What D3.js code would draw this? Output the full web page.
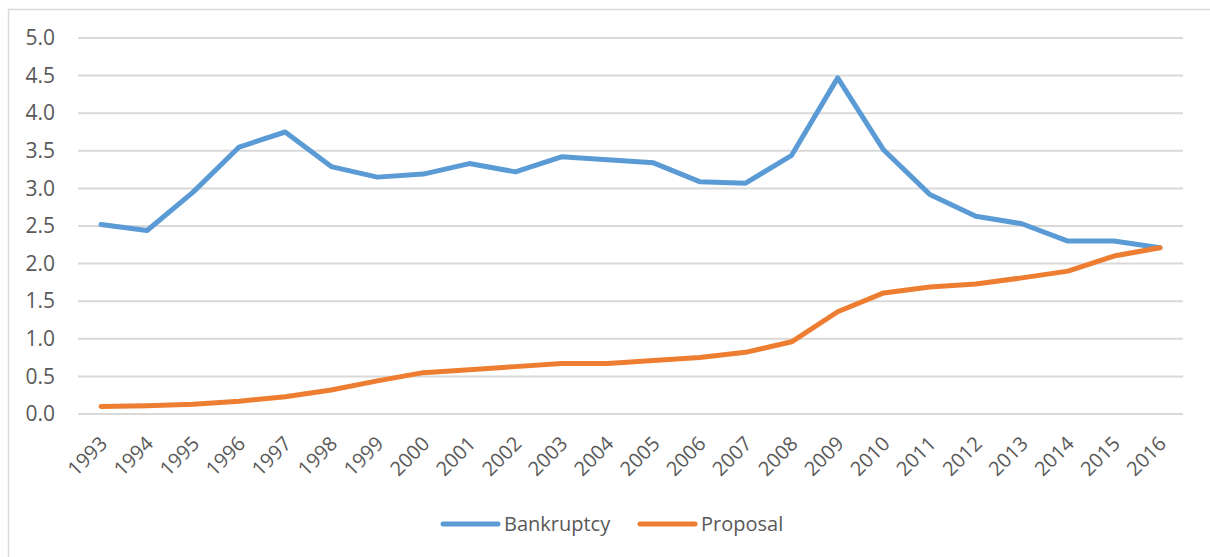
<!DOCTYPE html>
<html>
<head>
<meta charset="utf-8">
<script src="https://cdn.jsdelivr.net/npm/d3@7"></script>
<style>
  body { margin: 0; background: #fff; }
  text { font-family: "Open Sans", sans-serif; fill: #595959; }
</style>
</head>
<body>
<div id="chart-area"></div>
<script>
// data
var years = ["1993","1994","1995","1996","1997","1998","1999","2000","2001","2002","2003","2004",
             "2005","2006","2007","2008","2009","2010","2011","2012","2013","2014","2015","2016"];
var bankruptcy = [2.52, 2.44, 2.95, 3.55, 3.75, 3.29, 3.15, 3.19, 3.33, 3.22, 3.42, 3.38,
                  3.34, 3.09, 3.07, 3.44, 4.47, 3.51, 2.92, 2.63, 2.53, 2.30, 2.30, 2.21];
var proposal = [0.10, 0.11, 0.13, 0.17, 0.23, 0.32, 0.44, 0.55, 0.59, 0.63, 0.67, 0.67,
                0.71, 0.75, 0.82, 0.96, 1.36, 1.61, 1.69, 1.73, 1.81, 1.90, 2.10, 2.21];
var yTicks = [0, 0.5, 1, 1.5, 2, 2.5, 3, 3.5, 4, 4.5, 5];

var series = [
    { name: "Bankruptcy", values: bankruptcy, color: "#5B9BD5" },
    { name: "Proposal", values: proposal, color: "#ED7D31" }
];

var W = 1210, H = 557;
var margin = { left: 78, right: 27, top: 38, bottom: 143 };
var width = W - margin.left - margin.right;
var height = H - margin.top - margin.bottom;

var svg = d3.select("#chart-area")
    .append("svg")
        .attr("width", W)
        .attr("height", H);

// chart area border
svg.append("rect")
    .attr("x", 8.5)
    .attr("y", 9.5)
    .attr("width", W + 20)
    .attr("height", H + 20)
    .attr("fill", "none")
    .attr("stroke", "#D9D9D9")
    .attr("stroke-width", 1.5);

var g = svg.append("g")
    .attr("transform", "translate(" + margin.left + "," + margin.top + ")");

var x = d3.scalePoint()
    .domain(years)
    .range([0, width])
    .padding(0.5);

var y = d3.scaleLinear()
    .domain([0, 5])
    .range([height, 0]);

// gridlines
g.selectAll(".grid")
    .data(yTicks)
    .enter()
    .append("line")
        .attr("x1", 0)
        .attr("x2", width)
        .attr("y1", function(d){ return y(d); })
        .attr("y2", function(d){ return y(d); })
        .attr("stroke", "#D9D9D9")
        .attr("stroke-width", 2);

var yAxisCall = d3.axisLeft(y)
    .tickValues(yTicks)
    .tickSize(0)
    .tickPadding(23)
    .tickFormat(d3.format(".1f"));

g.append("g")
    .attr("class", "y-axis")
    .call(yAxisCall)
    .call(function(a){ a.select(".domain").remove(); })
    .selectAll("text")
        .style("font-size", "21px")
        .attr("fill", "#595959");

var xAxisCall = d3.axisBottom(x).tickSize(0);

g.append("g")
    .attr("class", "x-axis")
    .attr("transform", "translate(0," + height + ")")
    .call(xAxisCall)
    .call(function(a){ a.select(".domain").remove(); })
    .selectAll("text")
        .style("font-size", "20px")
        .attr("fill", "#595959")
        .attr("text-anchor", "end")
        .attr("x", 0)
        .attr("y", 0)
        .attr("dy", "0.35em")
        .attr("transform", "translate(2,26) rotate(-45)");

var line = d3.line()
    .x(function(d, i){ return x(years[i]); })
    .y(function(d){ return y(d); });

g.selectAll(".series")
    .data(series)
    .enter()
    .append("path")
        .attr("d", function(s){ return line(s.values); })
        .attr("fill", "none")
        .attr("stroke", function(s){ return s.color; })
        .attr("stroke-width", 5)
        .attr("stroke-linejoin", "round")
        .attr("stroke-linecap", "round");

// legend
var legend = svg.append("g")
    .attr("transform", "translate(443,524)");

var items = legend.selectAll(".item")
    .data(series)
    .enter()
    .append("g")
        .attr("transform", function(d, i){ return "translate(" + (i * 197) + ",0)"; });

items.append("line")
    .attr("x1", 0)
    .attr("x2", 55)
    .attr("stroke", function(d){ return d.color; })
    .attr("stroke-width", 5)
    .attr("stroke-linecap", "round");

items.append("text")
    .attr("x", 61)
    .attr("dy", "0.35em")
    .style("font-size", "20px")
    .text(function(d){ return d.name; });
</script>
</body>
</html>
